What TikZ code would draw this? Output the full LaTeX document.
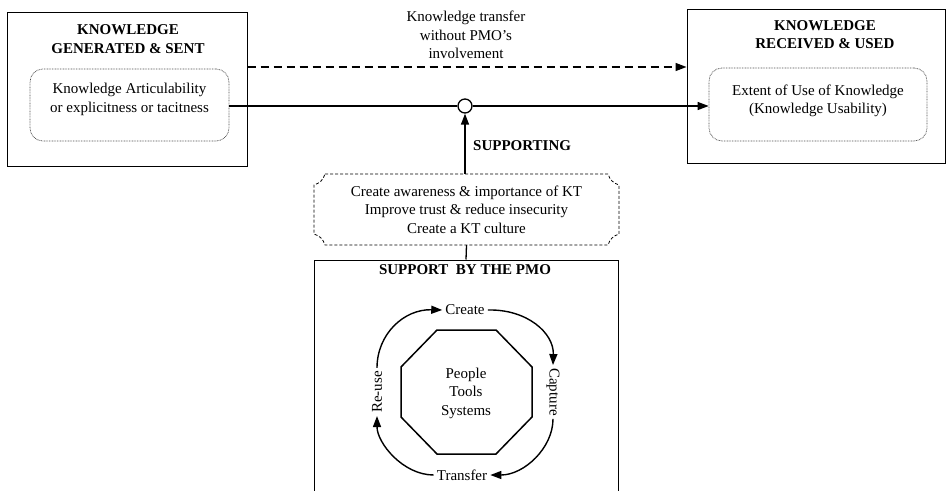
\documentclass[tikz,border=0pt]{standalone}
\usepackage{fontspec}
\setmainfont{Liberation Serif}
\usetikzlibrary{arrows.meta}
\begin{document}
\begin{tikzpicture}[x=1pt,y=-1pt,
  txt/.style={font=\fontsize{15}{18.5}\selectfont, align=center, inner sep=0pt},
  ttl/.style={font=\fontsize{15}{18.5}\selectfont\bfseries, align=center, inner sep=0pt},
  bigbox/.style={draw, line width=1pt, inner sep=0pt},
  innerbox/.style={draw=black!70, line width=0.7pt, dash pattern=on 0.8pt off 0.8pt, rounded corners=13pt, inner sep=0pt},
  tip/.style={-{Triangle[length=11pt,width=8pt]}},
  cyc/.style={line width=1.4pt, tip},
  lbl/.style={font=\fontsize{15}{18.5}\selectfont, inner sep=3pt},
  dsh/.style={line width=1.4pt, dash pattern=on 8pt off 5pt},
]
\useasboundingbox (0,0) rectangle (947,490);

% left box
\node[bigbox, minimum width=240, minimum height=154] (L) at (127,89) {};
\node[ttl] (Lt) at (128,39) {KNOWLEDGE\\GENERATED \& SENT};
\node[innerbox, minimum width=199, minimum height=72] (Li) at (129.5,105) {};
\node[txt] (Lx) at (129.5,99.5) {Knowledge Articulability\\or explicitness or tacitness};

% right box
\node[bigbox, minimum width=258, minimum height=154] (R) at (816,86) {};
\node[ttl] (Rt) at (825,34.5) {KNOWLEDGE\\RECEIVED \& USED};
\node[innerbox, minimum width=218, minimum height=73] (Ri) at (818,104.5) {};
\node[txt] (Rx) at (818,101) {Extent of Use of Knowledge\\(Knowledge Usability)};

% dashed transfer
\node[txt] (kt) at (466,35) {Knowledge transfer\\without PMO's\\involvement};
\draw[dsh, tip] ([yshift=22pt]L.east) -- ([yshift=19pt]R.west);

% solid transfer with junction circle
\node[circle, draw, line width=1.3pt, minimum size=14, inner sep=0pt] (C) at (465,106) {};
\draw[line width=1.3pt] (Li.east |- C) -- (C.west);
\draw[line width=1.3pt, tip] (C.east) -- (Ri.west |- C);

% supporting
\node[ttl, anchor=west] (sup) at (473,146) {SUPPORTING};
\node[txt, minimum width=305, minimum height=71] (D) at (466.5,209.5)
  {Create awareness \& importance of KT\\Improve trust \& reduce insecurity\\Create a KT culture};
\draw[line width=0.8pt, dash pattern=on 3pt off 2pt]
  (325,174) -- (608,174) .. controls (610,180) and (613,183) .. (619,185)
  -- (619,234) .. controls (613,236) and (610,239) .. (608,245)
  -- (325,245) .. controls (323,239) and (320,236) .. (314,234)
  -- (314,185) .. controls (320,183) and (323,180) .. cycle;
\draw[line width=1.4pt, tip] (C |- D.north) -- (C.south);

% PMO box
\node[bigbox, minimum width=304, minimum height=245] (P) at (466,382.5) {};
\draw[line width=1.3pt] (D.south) -- (P.north);
\node[ttl] (Pt) at (465,270) {SUPPORT\ \ BY THE PMO};

% octagon
\draw[line width=1.5pt] (437,330) -- (496,330) -- (532,367) -- (532,417) -- (496,454)
  -- (437,454) -- (401,417) -- (401,367) -- cycle;
\node[txt] (O) at (466,393) {People\\Tools\\Systems};

% cycle
\node[lbl] (cr) at (465,310) {Create};
\node[lbl, rotate=-90] (ca) at (553,392) {Capture};
\node[lbl] (tr) at (462,475) {Transfer};
\node[lbl, rotate=90] (re) at (377,392) {Re-use};
\draw[cyc] (re.east) .. controls (377,334) and (404,309) .. (cr.west);
\draw[cyc] (cr.east) .. controls (527,309) and (554,333) .. (ca.west);
\draw[cyc] (ca.east) .. controls (553,448) and (524,475) .. (tr.east);
\draw[cyc] (tr.west) .. controls (403,475) and (377,443) .. (re.west);
\end{tikzpicture}
\end{document}
